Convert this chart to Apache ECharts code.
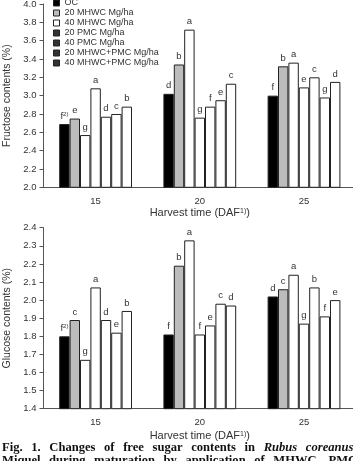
<!DOCTYPE html>
<html>
<head>
<meta charset="utf-8">
<script src="https://cdn.jsdelivr.net/npm/echarts@6/dist/echarts.min.js"></script>
<style>
  html, body { margin: 0; padding: 0; background: #fff; }
  #chart { width: 353px; height: 461px; }
</style>
</head>
<body>
<div id="chart"></div>
<script>
// 数据
var categories = ['15', '20', '25']
var treatments = ['OC', '20 MHWC Mg/ha', '40 MHWC Mg/ha', '20 PMC Mg/ha', '40 PMC Mg/ha', '20 MHWC+PMC Mg/ha', '40 MHWC+PMC Mg/ha']

// 果糖 Fructose (%)
var fruOC = [2.69, 3.02, 3.00]
var fruMHWC20 = [2.75, 3.34, 3.32]
var fruMHWC40 = [2.57, 3.72, 3.36]
var fruPMC20 = [3.08, 2.76, 3.09]
var fruPMC40 = [2.77, 2.88, 3.20]
var fruMix20 = [2.80, 2.95, 2.98]
var fruMix40 = [2.88, 3.13, 3.15]
var fruLetters = [
  ['f*', 'd', 'f'],
  ['e', 'b', 'b'],
  ['g', 'a', 'a'],
  ['a', 'g', 'e'],
  ['d', 'f', 'c'],
  ['c', 'e', 'g'],
  ['b', 'c', 'd']
]

// 葡萄糖 Glucose (%)
var gluOC = [1.80, 1.81, 2.02]
var gluMHWC20 = [1.89, 2.19, 2.06]
var gluMHWC40 = [1.67, 2.33, 2.14]
var gluPMC20 = [2.07, 1.81, 1.87]
var gluPMC40 = [1.89, 1.86, 2.07]
var gluMix20 = [1.82, 1.98, 1.91]
var gluMix40 = [1.94, 1.97, 2.00]
var gluLetters = [
  ['f*', 'f', 'd'],
  ['c', 'b', 'c'],
  ['g', 'a', 'a'],
  ['a', 'f', 'g'],
  ['d', 'e', 'b'],
  ['e', 'c', 'f'],
  ['b', 'd', 'e']
]

var fruSeries = [fruOC, fruMHWC20, fruMHWC40, fruPMC20, fruPMC40, fruMix20, fruMix40]
var gluSeries = [gluOC, gluMHWC20, gluMHWC40, gluPMC20, gluPMC40, gluMix20, gluMix40]

// 图注
var captionLine1 = [['Fig.', 'b'], ['1.', 'b'], ['Changes', 'b'], ['of', 'b'], ['free', 'b'], ['sugar', 'b'], ['contents', 'b'], ['in', 'b'], ['Rubus', 'i'], ['coreanus', 'i']]
var captionLine2 = [['Miquel', 'b'], ['during', 'b'], ['maturation', 'b'], ['by', 'b'], ['application', 'b'], ['of', 'b'], ['MHWC,', 'b'], ['PMC', 'b'], ['and', 'b']]

var font = 'Liberation Sans'
var txt = '#333'
var fills = ['#000', '#bcbcbc', '#fff', '#fff', '#fff', '#fff', '#fff']
var legendFills = ['#000', '#bcbcbc', '#fff', '#333', '#333', '#333', '#333']

function makeSeries(values, letters, axisIdx) {
  return values.map(function (arr, i) {
    return {
      name: treatments[i],
      type: 'bar',
      xAxisIndex: axisIdx,
      yAxisIndex: axisIdx,
      barWidth: 10.4,
      barGap: '0%',
      data: arr,
      itemStyle: { color: fills[i], borderColor: '#222', borderWidth: 1 },
      label: {
        show: true,
        position: 'top',
        distance: 3,
        color: txt,
        fontFamily: font,
        fontSize: 9.5,
        formatter: function (p) {
          var l = letters[i][p.dataIndex]
          if (l.indexOf('*') > -1) return l.replace('*', '') + '{sup|2)}'
          return l
        },
        rich: {
          sup: { fontSize: 6, verticalAlign: 'top', color: txt, fontFamily: font }
        }
      },
      emphasis: { disabled: true }
    }
  })
}

function yAxisOf(idx, min, max, interval, name) {
  return {
    gridIndex: idx,
    type: 'value',
    min: min,
    max: max,
    interval: interval,
    name: name,
    nameLocation: 'middle',
    nameGap: 31,
    nameTextStyle: { fontFamily: font, fontSize: 10.5, color: txt },
    axisLine: { show: true, lineStyle: { color: '#555' } },
    axisTick: { show: true, length: 4, lineStyle: { color: '#555' } },
    axisLabel: {
      fontFamily: font, fontSize: 9.5, color: txt, margin: 7,
      formatter: function (v) { return v.toFixed(1) }
    },
    splitLine: { show: false }
  }
}

function xAxisOf(idx, gap) {
  return {
    gridIndex: idx,
    type: 'category',
    data: categories,
    name: 'Harvest time (DAF{sup|1)})',
    nameLocation: 'middle',
    nameGap: gap,
    nameTextStyle: {
      fontFamily: font, fontSize: 11, color: txt,
      rich: { sup: { fontSize: 7, verticalAlign: 'top', color: txt, fontFamily: font } }
    },
    axisLine: { lineStyle: { color: '#555' } },
    axisTick: { show: false },
    axisLabel: { fontFamily: font, fontSize: 9.5, color: txt, margin: 9 }
  }
}

function captionText(words) {
  return words.map(function (w) { return '{' + w[1] + '|' + w[0] + '}' }).join('{s| }')
}
var capRich = {
  b: { fontFamily: 'Liberation Serif', fontWeight: 'bold', fontSize: 12.6, fill: '#111' },
  i: { fontFamily: 'Liberation Serif', fontWeight: 'bold', fontStyle: 'italic', fontSize: 12.6, fill: '#111' },
  s: { fontFamily: 'Liberation Serif', fontSize: 12.6, width: 8.6 }
}

var myChart = echarts.init(document.getElementById('chart'))
var option = {
  animation: false,
  legend: {
    orient: 'vertical',
    left: 53,
    top: -1.5,
    padding: 0,
    itemWidth: 6,
    itemHeight: 6,
    itemGap: 1,
    icon: 'rect',
    selectedMode: false,
    textStyle: { fontFamily: font, fontSize: 9, color: txt, lineHeight: 9 },
    data: treatments.map(function (n, i) {
      return { name: n, itemStyle: { color: legendFills[i], borderColor: '#222', borderWidth: 1 } }
    })
  },
  grid: [
    { left: 43.5, top: 4, width: 312.6, height: 183.3, outerBoundsMode: 'none' },
    { left: 43.5, top: 227.7, width: 312.6, height: 181, outerBoundsMode: 'none' }
  ],
  xAxis: [xAxisOf(0, 19), xAxisOf(1, 22)],
  yAxis: [
    yAxisOf(0, 2.0, 4.0, 0.2, 'Fructose contents (%)'),
    yAxisOf(1, 1.4, 2.4, 0.1, 'Glucose contents (%)')
  ],
  series: makeSeries(fruSeries, fruLetters, 0).concat(makeSeries(gluSeries, gluLetters, 1)),
  graphic: [
    { type: 'text', left: 2, top: 441.5, style: { text: captionText(captionLine1), rich: capRich } },
    { type: 'text', left: 2, top: 454.5, style: { text: captionText(captionLine2), rich: capRich } }
  ]
}
option && myChart.setOption(option)
window.addEventListener('resize', function () { myChart.resize() })
</script>
</body>
</html>
